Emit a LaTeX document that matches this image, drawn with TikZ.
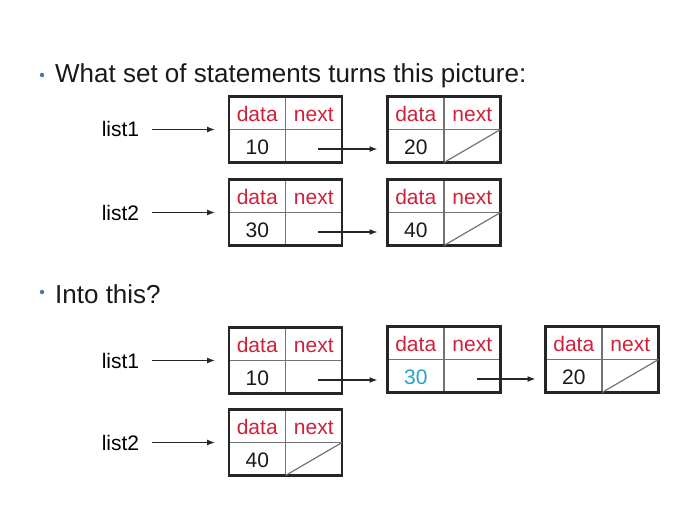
\documentclass[tikz,border=0pt]{standalone}
\usepackage{fontspec}
\setmainfont{Liberation Sans}
\usetikzlibrary{calc,positioning,arrows.meta}
\definecolor{fieldred}{RGB}{208,32,58}
\definecolor{newval}{RGB}{40,160,200}
\definecolor{dotblue}{RGB}{70,120,170}

\begin{document}
\begin{tikzpicture}[x=1pt, y=-1pt, >={Latex[length=8pt,width=6pt]},
                    font=\fontsize{21}{24}\selectfont]
        \tikzset{box/.style={minimum width=113pt, minimum height=66pt,
                 inner sep=0pt, outer sep=0pt},
                 cell/.style={inner sep=0pt, text height=15pt, text depth=0pt},
                 fld/.style={cell, text=fieldred},
                 rim/.style={line width=2.4pt, black!85},
                 divd/.style={line width=1.2pt, black!55},
                 ptr/.style={->, line width=1.2pt, black!85},
                 head/.style={anchor=base west, inner sep=0pt,
                 font=\fontsize{26}{30}\selectfont, black!90},
                 dot/.style={circle, fill=dotblue, inner sep=0pt, minimum size=4.5pt}}
        \useasboundingbox (0,0) rectangle (700,521);
        %% Preguntas
        \node[dot]  (d1) at (42,75) {};
        \node[head] (q1) at (55,83) {What set of statements turns this picture:};
        \node[dot]  (d2) at (42,292) {};
        \node[head] (q2) at (55,303) {Into this?};
        %% Nodos de la lista (data | next)
        \foreach \n/\x/\y/\v/\c in {t10/285.5/129.5/10/black!90, t20/444/129.5/20/black!90,
                 t30/285.5/212.5/30/black!90, t40/444/212.5/40/black!90,
                 b10/285.5/360.5/10/black!90, b30/444/359.5/30/newval,
                 b20/602/359.5/20/black!90, b40/285.5/442.5/40/black!90}{
            \node[box] (\n) at (\x,\y) {};
            \draw[divd] (\n.north) -- (\n.south) (\n.west) -- (\n.east);
            \draw[rim] (\n.north west) rectangle (\n.south east);
            \node[fld] (\n-d) at ($(\n.north west)!0.5!(\n.center)+(0,1)$) {data};
            \node[fld] (\n-n) at ($(\n.north east)!0.5!(\n.center)+(0,1)$) {next};
            \node[cell, text=\c] (\n-v) at ($(\n.south west)!0.5!(\n.center)+(0,1)$) {\v};
        }
        %% next = null
        \foreach \n in {t20,t40,b20,b40}
            \draw[divd] (\n.south) -- (\n.east);
        %% Enlaces next
        \foreach \a/\b in {t10/t20, t30/t40, b10/b30, b30/b20}{
            \coordinate (\a-p) at ($(\a)+(32.5,19.5)$);
            \draw[ptr, shorten >=10pt] (\a-p) -- (\a-p -| \b.west);
        }
        %% Cabeceras list1 / list2
        \node[cell] (tl1) at (120.5,129.5) {list1};
        \node[cell] (tl2) at (120.5,212.5) {list2};
        \node[cell] (bl1) at (120.5,360.5) {list1};
        \node[cell] (bl2) at (120.5,442.5) {list2};
        \draw[ptr, shorten <=13pt, shorten >=14pt] (tl1) -- (t10);
        \draw[ptr, shorten <=13pt, shorten >=14pt] (tl2) -- (t30);
        \draw[ptr, shorten <=13pt, shorten >=14pt] (bl1) -- (b10);
        \draw[ptr, shorten <=13pt, shorten >=14pt] (bl2) -- (b40);
    \end{tikzpicture}
\end{document}
